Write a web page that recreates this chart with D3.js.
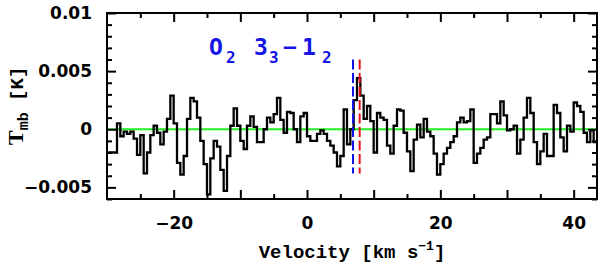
<!DOCTYPE html>
<html><head><meta charset="utf-8">
<script src="https://cdn.jsdelivr.net/npm/d3@7"></script>
<style>body{margin:0;background:#fff}svg{display:block}</style>
</head><body>
<svg id="c" width="600" height="269"></svg>
<script>
// spectrum: channel start velocity, channel width (km/s), values in mK
const vStart = -30, chanWidth = 0.5;
const tmbMilliK = [
 -2.0,-2.0,-2.0,0.5,-0.6,-0.2,-0.4,-0.2,-0.8,-2.2,
 -0.5,-3.8,-2.0,-0.5,0.3,-0.3,-1.3,-0.2,0.9,2.9,
 0.5,-2.9,-3.9,-2.3,0.9,2.7,2.4,1.0,-1.0,-3.0,
 -5.6,-2.5,-1.0,-1.5,-3.5,-5.3,-2.3,0.3,1.8,0.3,
 -1.0,-1.7,0.3,1.1,0.2,-1.1,-1.1,0.0,1.0,0.6,
 1.3,2.7,0.8,-0.3,1.5,1.4,0.0,-1.1,1.1,1.4,
 -0.6,-1.0,-1.0,-0.4,-0.1,-0.4,-1.0,-1.4,-2.0,-3.2,
 -2.3,1.7,-1.3,0.0,2.5,4.4,2.9,0.9,2.0,0.7,
 -2.0,1.4,1.0,0.8,-1.4,-2.1,0.3,1.7,1.6,-0.3,
 -1.9,-3.6,-0.9,0.4,-0.7,0.9,-0.2,-0.6,-2.1,-3.9,
 -3.0,-2.1,-1.6,-1.1,-0.6,0.6,1.0,0.6,0.7,1.7,
 -2.9,-2.1,-1.6,-0.9,-0.7,1.3,1.3,0.5,2.4,1.2,
 -0.1,0.0,0.3,-2.1,-0.9,1.0,2.7,1.4,-1.1,-3.0,
 -1.9,-0.4,-2.3,-2.3,2.1,1.4,-0.7,-1.9,0.3,-0.2,
 2.3,2.0,1.5,-0.3,-1.1,-0.1,-1.1
];
const xDomain = [-30, 43.5];
const yDomain = [-0.006, 0.01];
const xMajorTicks = [-20, 0, 20, 40];
const xMajorLabels = ["\u221220", "0", "20", "40"];
const xAllTicks10 = [-20,-10,0,10,20,30,40];
const xMinorTicks = [-25,-15,-5,5,15,25,35];
const yMajorTicks = [-0.005, 0, 0.005, 0.01];
const yMajorLabels = ["\u22120.005", "0", "0.005", "0.01"];
const yMinorTicks = [-0.006,-0.004,-0.003,-0.002,-0.001,0.001,0.002,0.003,0.004,0.006,0.007,0.008,0.009];
const lineVelocities = [6.9, 7.9];
const lineColors = ["#1010e8", "#ee1111"];
const lineSpan = [0.006, -0.0038];

const svg = d3.select("#c");
const L = 107, R = 597, T = 13, B = 199;
const x = d3.scaleLinear().domain(xDomain).range([L, R]);
const y = d3.scaleLinear().domain(yDomain).range([B, T]);

// zero line
svg.append("line").attr("x1", L).attr("x2", R).attr("y1", y(0)).attr("y2", y(0))
  .attr("stroke", "#22ee22").attr("stroke-width", 2);

// spectrum
const pts = tmbMilliK.map((v, i) => [vStart + i * chanWidth, v / 1000]);
pts.push([vStart + tmbMilliK.length * chanWidth, tmbMilliK[tmbMilliK.length - 1] / 1000]);
const line = d3.line().x(d => x(d[0])).y(d => y(d[1])).curve(d3.curveStepAfter);
svg.append("path").attr("d", line(pts)).attr("fill", "none")
  .attr("stroke", "#000").attr("stroke-width", 2.3).attr("stroke-linejoin", "miter");

// dashed line markers
lineVelocities.forEach((v, i) => {
  svg.append("line").attr("x1", x(v)).attr("x2", x(v))
    .attr("y1", y(lineSpan[0])).attr("y2", y(lineSpan[1]))
    .attr("stroke", lineColors[i]).attr("stroke-width", 2)
    .attr("stroke-dasharray", "10,3.5");
});

// axes
function styleAxis(g) {
  g.select(".domain").remove();
  g.selectAll(".tick line").attr("stroke", "#000").attr("stroke-width", 2);
  g.selectAll("text").attr("font-family", "DejaVu Sans").attr("font-weight", "bold")
    .attr("font-size", 17).attr("fill", "#000");
}
const xb = svg.append("g").attr("transform", `translate(0,${B})`)
  .call(d3.axisBottom(x).tickValues(xMajorTicks).tickSize(-9).tickPadding(18)
    .tickFormat((d, i) => xMajorLabels[i]));
styleAxis(xb);
svg.append("g").attr("transform", `translate(0,${B})`)
  .call(d3.axisBottom(x).tickValues(xAllTicks10.filter(t => !xMajorTicks.includes(t))).tickSize(-9).tickFormat("")).call(styleAxis);
svg.append("g").attr("transform", `translate(0,${B})`)
  .call(d3.axisBottom(x).tickValues(xMinorTicks).tickSize(-5).tickFormat("")).call(styleAxis);
svg.append("g").attr("transform", `translate(0,${T})`)
  .call(d3.axisTop(x).tickValues(xAllTicks10).tickSize(-9).tickFormat("")).call(styleAxis);
svg.append("g").attr("transform", `translate(0,${T})`)
  .call(d3.axisTop(x).tickValues(xMinorTicks).tickSize(-5).tickFormat("")).call(styleAxis);

const yl = svg.append("g").attr("transform", `translate(${L},0)`)
  .call(d3.axisLeft(y).tickValues(yMajorTicks).tickSize(-9).tickPadding(15)
    .tickFormat((d, i) => yMajorLabels[i]));
styleAxis(yl);
svg.append("g").attr("transform", `translate(${L},0)`)
  .call(d3.axisLeft(y).tickValues(yMinorTicks).tickSize(-5).tickFormat("")).call(styleAxis);
svg.append("g").attr("transform", `translate(${R},0)`)
  .call(d3.axisRight(y).tickValues(yMajorTicks).tickSize(-9).tickFormat("")).call(styleAxis);
svg.append("g").attr("transform", `translate(${R},0)`)
  .call(d3.axisRight(y).tickValues(yMinorTicks).tickSize(-5).tickFormat("")).call(styleAxis);

// frame
svg.append("rect").attr("x", L).attr("y", T).attr("width", R - L).attr("height", B - T)
  .attr("fill", "none").attr("stroke", "#000").attr("stroke-width", 2);

// x title
const xt = svg.append("text").attr("x", (L + R) / 2).attr("y", 258).attr("text-anchor", "middle")
  .attr("font-family", "Liberation Mono").attr("font-weight", "bold").attr("font-size", 19).attr("fill", "#000");
xt.append("tspan").text("Velocity [km s");
xt.append("tspan").attr("font-size", 13).attr("dy", -8).text("\u22121");
xt.append("tspan").attr("dy", 8).text("]");

// y title
const yt = svg.append("text").attr("transform", "translate(23,145) rotate(-90)")
  .attr("font-weight", "bold").attr("fill", "#000");
yt.append("tspan").attr("font-family", "Liberation Serif").attr("font-size", 22).text("T");
yt.append("tspan").attr("font-family", "Liberation Mono").attr("font-size", 15).attr("dy", 5).text("mb");
yt.append("tspan").attr("font-family", "Liberation Mono").attr("font-size", 19).attr("dy", -5).text(" [K]");

// annotation
const ann = svg.append("g").attr("fill", "#1414e6").attr("font-family", "DejaVu Sans Mono")
  .attr("font-weight", "bold");
const annParts = [
  {t: "O", x: 209, y: 55, s: 23},
  {t: "2", x: 226, y: 63, s: 16},
  {t: "3", x: 254, y: 55, s: 23},
  {t: "3", x: 269, y: 63, s: 16},
  {t: "\u2212", x: 283, y: 55, s: 23},
  {t: "1", x: 302, y: 55, s: 23},
  {t: "2", x: 322, y: 63, s: 16}
];
annParts.forEach(p => ann.append("text").attr("x", p.x).attr("y", p.y).attr("font-size", p.s).text(p.t));
</script>
</body></html>
